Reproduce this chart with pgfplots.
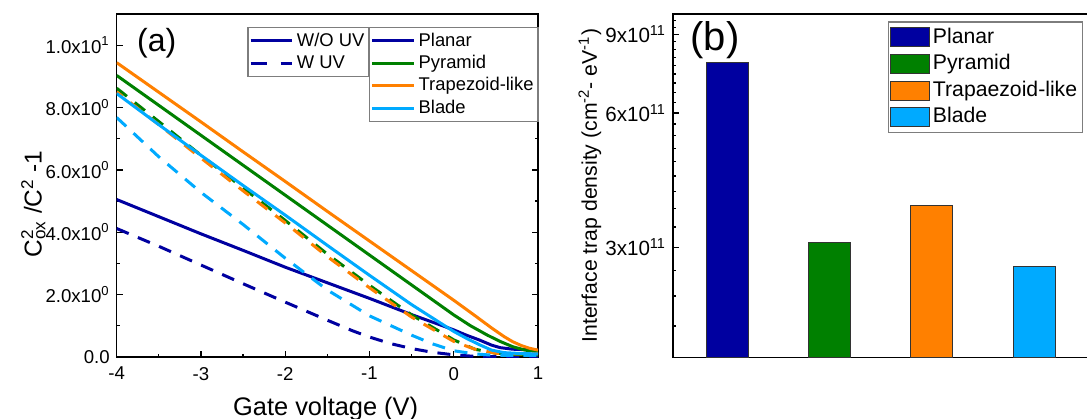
\documentclass[border=0pt]{standalone}
\usepackage{fontspec}
\setmainfont{Liberation Sans}
\usepackage{pgfplots}
\pgfplotsset{compat=1.18}

\definecolor{cplanar}{RGB}{0,0,160}
\definecolor{cpyramid}{RGB}{0,128,0}
\definecolor{ctrap}{RGB}{255,128,0}
\definecolor{cblade}{RGB}{0,170,255}
\definecolor{lgray}{RGB}{125,125,125}

\pgfplotsset{
  curve/.style={line width=1.5pt},
  wuv/.style={line width=1.5pt, dash pattern=on 6.5pt off 5pt},
  linelegend/.style={
    legend image code/.code={\draw[##1] (0pt,0pt) -- (20.8pt,0pt);},
    legend cell align=left,
    legend style={draw=lgray, line width=0.6pt, inner xsep=0.6pt, inner ysep=1pt,
      font=\fontsize{9.2}{10}\selectfont, row sep=0pt,
      nodes={inner xsep=1.6pt, inner ysep=1.2pt, text height=7pt, text depth=1.8pt}},
  },
}

\begin{document}
\begin{tikzpicture}[x=1pt,y=1pt]

% (a) C_ox^2/C^2 - 1 against gate voltage
\begin{axis}[
  at={(58.35pt,-7pt)}, anchor=north west,
  scale only axis, width=210.65pt, height=171.5pt,
  xmin=-4, xmax=1, ymin=0, ymax=11,
  xtick={-4,-3,-2,-1,0,1}, xticklabels={-4,-3,-2,-1,0,1},
  ytick={0,2,4,6,8,10},
  yticklabels={0.0, {2.0x10\textsuperscript{0}}, {4.0x10\textsuperscript{0}}, {6.0x10\textsuperscript{0}}, {8.0x10\textsuperscript{0}}, {1.0x10\textsuperscript{1}}},
  minor x tick num=1, minor y tick num=1,
  tick align=inside, xtick pos=bottom, ytick pos=both,
  major tick length=3pt, minor tick length=1.7pt,
  axis line style={line width=0.75pt},
  every tick/.append style={line width=0.6pt, black},
  tick label style={font=\fontsize{9.3}{11}\selectfont},
  xticklabel style={yshift=-1.5pt},
  xlabel={Gate voltage (V)},
  xlabel style={at={(axis description cs:0.496,0)}, anchor=base, yshift=-29pt, font=\fontsize{12.7}{14}\selectfont},
  ylabel={C\rlap{\textsuperscript{2}}\textsubscript{ox} /C\textsuperscript{2} -1},
  ylabel style={at={(axis description cs:-0.178,0.446)}, anchor=base, font=\fontsize{12.2}{14}\selectfont},
  linelegend,
  legend style={at={(axis description cs:0.599,0.962)}, anchor=north west},
]
\addplot[curve, cplanar] coordinates {(-4,5.05) (-3.5,4.5) (-3,3.95) (-2.5,3.42) (-2,2.88) (-1.5,2.38) (-1,1.88) (-0.5,1.36) (-0.1,0.97) (0,0.87) (0.15,0.7) (0.3,0.55) (0.45,0.38) (0.55,0.3) (0.7,0.25) (1,0.22)};
\addlegendentry{Planar}
\addplot[wuv, cplanar, forget plot] coordinates {(-4,4.12) (-3.5,3.55) (-3,2.95) (-2.5,2.35) (-2,1.76) (-1.5,1.18) (-1.2,0.84) (-1,0.64) (-0.75,0.43) (-0.5,0.27) (-0.25,0.15) (0,0.07) (0.25,0.02) (0.5,0.01) (1,0.01)};
\addplot[curve, cpyramid] coordinates {(-4,9.03) (-3.5,8.07) (-3,7.11) (-2.5,6.15) (-2,5.19) (-1.5,4.23) (-1,3.27) (-0.5,2.31) (0,1.35) (0.2,1.0) (0.4,0.7) (0.55,0.5) (0.7,0.33) (0.85,0.22) (1,0.17)};
\addlegendentry{Pyramid}
\addplot[wuv, cpyramid, forget plot] coordinates {(-4,8.62) (-3.5,7.55) (-3,6.47) (-2.5,5.42) (-2,4.38) (-1.5,3.3) (-1,2.3) (-0.5,1.35) (0,0.55) (0.25,0.25) (0.5,0.12) (0.75,0.08) (1,0.06)};
\addplot[curve, ctrap] coordinates {(-4,9.44) (-3.5,8.49) (-3,7.54) (-2.5,6.58) (-2,5.63) (-1.5,4.67) (-1,3.72) (-0.5,2.77) (0,1.82) (0.25,1.33) (0.45,0.93) (0.6,0.65) (0.7,0.49) (0.8,0.37) (0.9,0.28) (1,0.22)};
\addlegendentry{Trapezoid-like}
\addplot[wuv, ctrap, forget plot, dash phase=3pt] coordinates {(-4,8.5) (-3.5,7.45) (-3,6.38) (-2.5,5.33) (-2,4.3) (-1.5,3.22) (-1,2.22) (-0.5,1.28) (0,0.5) (0.25,0.25) (0.5,0.12) (0.75,0.1) (1,0.1)};
\addplot[curve, cblade] coordinates {(-4,8.45) (-3.5,7.45) (-3,6.47) (-2.5,5.5) (-2,4.55) (-1.5,3.58) (-1,2.62) (-0.5,1.68) (-0.1,0.99) (0,0.82) (0.15,0.6) (0.3,0.4) (0.45,0.22) (0.6,0.14) (0.8,0.11) (1,0.1)};
\addlegendentry{Blade}
\addplot[wuv, cblade, forget plot] coordinates {(-4,7.68) (-3.5,6.42) (-3,5.28) (-2.5,4.25) (-2,3.17) (-1.5,2.15) (-1,1.32) (-0.5,0.7) (-0.25,0.42) (0,0.2) (0.25,0.1) (0.5,0.05) (1,0.05)};
\node[font=\fontsize{16}{18}\selectfont] at (axis description cs:0.095,0.915) {(a)};
\end{axis}

% line-style legend of panel (a)
\begin{axis}[
  at={(58.35pt,-7pt)}, anchor=north west,
  scale only axis, width=210.65pt, height=171.5pt,
  xmin=0, xmax=1, ymin=0, ymax=1, hide axis,
  linelegend,
  legend style={at={(axis description cs:0.31,0.962)}, anchor=north west},
]
\addlegendimage{curve, cplanar}
\addlegendentry{W/O UV}
\addlegendimage{line width=1.5pt, cplanar, dash pattern=on 8pt off 7pt}
\addlegendentry{W UV}
\end{axis}

% (b) interface trap density; the frame runs past the right edge of the picture
\begin{axis}[
  at={(336.5pt,-7pt)}, anchor=north west,
  scale only axis, width=215pt, height=171.75pt,
  xmin=0.47, xmax=4.673,
  ymode=log, ymin=1.7e11, ymax=1e12, log origin=infty,
  xtick=\empty,
  ytick={3e11,6e11,9e11},
  yticklabels={{3x10\textsuperscript{11}}, {6x10\textsuperscript{11}}, {9x10\textsuperscript{11}}},
  minor ytick={2e11,2.3333e11,2.6667e11,3.3333e11,3.6667e11,4e11,4.3333e11,4.6667e11,5e11,5.3333e11,5.6667e11,6.3333e11,6.6667e11,7e11,7.3333e11,7.6667e11,8e11,8.3333e11,8.6667e11,9.3333e11,9.6667e11},
  tick align=inside, ytick pos=left,
  major tick length=3pt, minor tick length=1.7pt,
  axis line style={line width=0.75pt},
  every tick/.append style={line width=0.6pt, black},
  tick label style={font=\fontsize{10.3}{12}\selectfont},
  ylabel={Interface trap density (cm\textsuperscript{-2}- eV\textsuperscript{-1})},
  ylabel style={at={(axis description cs:-0.177,0.5)}, anchor=base, font=\fontsize{10.6}{12}\selectfont},
  ybar, bar width=21pt, bar shift=0pt,
  legend image code/.code={\draw[#1] (0pt,-4.75pt) rectangle (19.3pt,4.75pt);},
  legend cell align=left,
  legend style={at={(axis description cs:0.4995,0.978)}, anchor=north west,
    draw=lgray, line width=0.6pt, inner xsep=0.8pt, inner ysep=1pt,
    font=\fontsize{10.6}{12}\selectfont, row sep=0pt,
    nodes={inner xsep=1.7pt, inner ysep=1.5pt, text height=8pt, text depth=2.3pt}},
]
\addplot[fill=cplanar, draw=black!80, line width=0.5pt] coordinates {(1,7.8e11)};
\addlegendentry{Planar}
\addplot[fill=cpyramid, draw=black!80, line width=0.5pt] coordinates {(2,3.08e11)};
\addlegendentry{Pyramid}
\addplot[fill=ctrap, draw=black!80, line width=0.5pt] coordinates {(3,3.73e11)};
\addlegendentry{Trapaezoid-like}
\addplot[fill=cblade, draw=black!80, line width=0.5pt] coordinates {(4,2.72e11)};
\addlegendentry{Blade}
\node[font=\fontsize{20}{22}\selectfont] at (axis description cs:0.0977,0.924) {(b)};
\end{axis}

\pgfresetboundingbox
\path[use as bounding box] (0pt,0pt) rectangle (543.5pt,-209pt);
\end{tikzpicture}
\end{document}
